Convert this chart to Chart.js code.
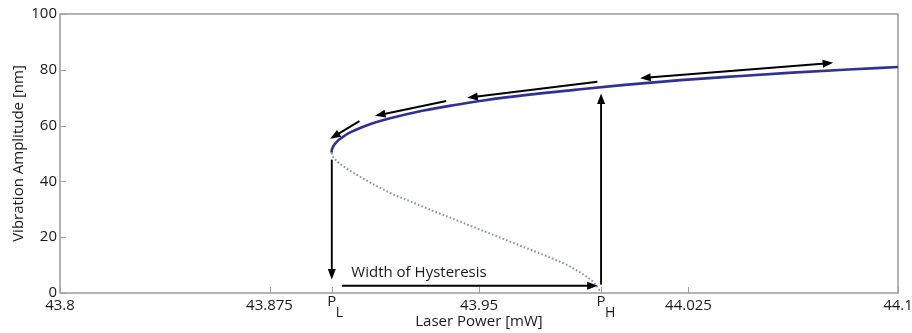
<!DOCTYPE html>
<html><head><meta charset="utf-8">
<script src="https://cdn.jsdelivr.net/npm/chart.js@4/dist/chart.umd.min.js"></script>
<style>html,body{margin:0;padding:0;background:#fff}</style>
</head><body>
<canvas id="c" width="912" height="333"></canvas>
<script>
// ---- data ----
const P_L = 43.8973;
const P_H = 43.9937;
const xTickValues = [43.8, 43.875, P_L, 43.95, P_H, 44.025, 44.1];
const xTickLabels = ['43.8', '43.875', 'P_L', '43.95', 'P_H', '44.025', '44.1'];
const yTickValues = [0, 20, 40, 60, 80, 100];

// stable (upper) branch
const stablePower     = [43.8972, 43.8973, 43.8976, 43.8981, 43.8988, 43.8997, 43.9012, 43.9032, 43.9062, 43.9102, 43.9152, 43.9222, 43.9302, 43.9402, 43.9522, 43.9672, 43.9842, 44.0022, 44.0222, 44.0422, 44.0622, 44.0822, 44.1000];
const stableAmplitude = [50.3,    51.2,    52.1,    53.0,    53.9,    54.8,    55.9,    57.2,    58.6,    60.2,    61.8,    63.6,    65.4,    67.2,    69.1,    71.0,    72.8,    74.6,    76.3,    77.7,    79.0,    80.1,    81.0];

// unstable (middle) branch
const unstablePower     = [43.8972, 43.8974, 43.8980, 43.8992, 43.9012, 43.9042, 43.9082, 43.9132, 43.9192, 43.9262, 43.9342, 43.9432, 43.9522, 43.9612, 43.9702, 43.9772, 43.9822, 43.9862, 43.9897, 43.9920, 43.9935];
const unstableAmplitude = [50.3,    49.4,    48.4,    47.2,    45.6,    43.6,    41.2,    38.4,    35.4,    32.5,    29.2,    25.6,    22.0,    18.4,    14.8,    12.0,    9.7,     7.4,     5.0,     2.7,     0.3];

// annotation arrows (data units)
const arrowStartPower = [P_L,     43.9009, P_H,  43.9072, 43.9383, 43.9924, 44.0077];
const arrowStartAmp   = [47.8,    2.6,     3.0,  61.6,    68.8,    75.7,    77.0];
const arrowEndPower   = [P_L,     43.9925, P_H,  43.8967, 43.9128, 43.9458, 44.0768];
const arrowEndAmp     = [4.8,     2.6,     71.5, 55.3,    63.5,    70.0,    82.5];
const arrowDoubleHead = [false,   false,   false,false,   false,   false,   true];

const annotationText = 'Width of Hysteresis';
const annotationPower = 43.9043;
const annotationAmp = 7.3;

const xTitle = 'Laser Power [mW]';
const yTitle = 'Vibration Amplitude [nm]';

// ---- chart ----
const FONT = '"Open Sans", "DejaVu Sans", sans-serif';
const TEXT = '#1a1a1a';
const FS = 15;

function toPts(xs, ys) { return xs.map((x, i) => ({x: x, y: ys[i]})); }

function head(ctx, x0, y0, x1, y1) {
  const ang = Math.atan2(y1 - y0, x1 - x0);
  const L = 10.5, W = 4;
  ctx.beginPath();
  ctx.moveTo(x1, y1);
  ctx.lineTo(x1 - L * Math.cos(ang) + W * Math.sin(ang), y1 - L * Math.sin(ang) - W * Math.cos(ang));
  ctx.lineTo(x1 - L * Math.cos(ang) - W * Math.sin(ang), y1 - L * Math.sin(ang) + W * Math.cos(ang));
  ctx.closePath();
  ctx.fill();
}

const decor = {
  id: 'decor',
  beforeDatasetsDraw(chart) {
    const {ctx, chartArea: a, scales: {x, y}} = chart;
    ctx.save();
    ctx.strokeStyle = '#8c8c8c';
    ctx.lineWidth = 1.3;
    ctx.strokeRect(a.left, a.top, a.right - a.left, a.bottom - a.top);
    ctx.strokeStyle = '#a0a0a0';
    ctx.lineWidth = 1;
    ctx.beginPath();
    xTickValues.forEach(v => {
      const px = Math.round(x.getPixelForValue(v)) + 0.5;
      ctx.moveTo(px, a.bottom); ctx.lineTo(px, a.bottom - 6);
    });
    yTickValues.forEach(v => {
      const py = Math.round(y.getPixelForValue(v)) + 0.5;
      ctx.moveTo(a.left, py); ctx.lineTo(a.left + 6, py);
    });
    ctx.stroke();
    ctx.restore();
  },
  afterDatasetsDraw(chart) {
    const {ctx, chartArea: a, scales: {x, y}} = chart;
    ctx.save();
    // arrows
    ctx.strokeStyle = '#000';
    ctx.fillStyle = '#000';
    ctx.lineWidth = 1.9;
    arrowStartPower.forEach((p, i) => {
      const x0 = x.getPixelForValue(p), y0 = y.getPixelForValue(arrowStartAmp[i]);
      const x1 = x.getPixelForValue(arrowEndPower[i]), y1 = y.getPixelForValue(arrowEndAmp[i]);
      const ang = Math.atan2(y1 - y0, x1 - x0);
      const sx = arrowDoubleHead[i] ? x0 + 8 * Math.cos(ang) : x0;
      const sy = arrowDoubleHead[i] ? y0 + 8 * Math.sin(ang) : y0;
      ctx.beginPath();
      ctx.moveTo(sx, sy);
      ctx.lineTo(x1 - 8 * Math.cos(ang), y1 - 8 * Math.sin(ang));
      ctx.stroke();
      head(ctx, x0, y0, x1, y1);
      if (arrowDoubleHead[i]) head(ctx, x1, y1, x0, y0);
    });
    // annotation text
    ctx.fillStyle = TEXT;
    ctx.font = FS + 'px ' + FONT;
    ctx.textAlign = 'left';
    ctx.textBaseline = 'middle';
    ctx.fillText(annotationText, x.getPixelForValue(annotationPower), y.getPixelForValue(annotationAmp));
    // subscripted tick labels
    xTickLabels.forEach((lab, i) => {
      if (lab.indexOf('_') < 0) return;
      const [main, sub] = lab.split('_');
      const px = x.getPixelForValue(xTickValues[i]);
      ctx.textAlign = 'center';
      ctx.font = FS + 'px ' + FONT;
      ctx.fillText(main, px, a.bottom + 9);
      ctx.textAlign = 'left';
      ctx.font = '14px ' + FONT;
      ctx.fillText(sub, px + 4, a.bottom + 20);
    });
    ctx.restore();
  }
};

new Chart(document.getElementById('c'), {
  type: 'scatter',
  data: {
    datasets: [
      {
        data: toPts(unstablePower, unstableAmplitude),
        showLine: true, borderColor: '#868dc6', borderWidth: 2,
        borderDash: [1.6, 2.2], pointRadius: 0, cubicInterpolationMode: 'monotone', fill: false
      },
      {
        data: toPts(stablePower, stableAmplitude),
        showLine: true, borderColor: '#2f3196', borderWidth: 2.6,
        pointRadius: 0, cubicInterpolationMode: 'monotone', fill: false
      }
    ]
  },
  plugins: [decor],
  options: {
    responsive: false,
    animation: false,
    events: [],
    layout: {padding: {left: 0, top: 14, right: 14, bottom: 0}},
    plugins: {legend: {display: false}, tooltip: {enabled: false}},
    scales: {
      x: {
        type: 'linear', min: 43.8, max: 44.1,
        afterBuildTicks(s) { s.ticks = xTickValues.map(v => ({value: v})); },
        afterFit(s) { s.height = 40; s.paddingRight = 0; s.paddingLeft = 0; },
        grid: {display: false, drawTicks: false},
        border: {display: false},
        ticks: {
          autoSkip: false, maxRotation: 0, padding: 4,
          color: TEXT, font: {family: FONT, size: FS},
          callback(v, i) { const l = xTickLabels[i]; return l.indexOf('_') >= 0 ? '' : l; }
        },
        title: {display: true, text: xTitle, color: TEXT, font: {family: FONT, size: FS}, padding: {top: 0, bottom: 2}}
      },
      y: {
        type: 'linear', min: 0, max: 100,
        afterBuildTicks(s) { s.ticks = yTickValues.map(v => ({value: v})); },
        afterFit(s) { s.width = 60; s.paddingTop = 0; s.paddingBottom = 0; },
        grid: {display: false, drawTicks: false},
        border: {display: false},
        ticks: {padding: 3, color: TEXT, font: {family: FONT, size: FS}},
        title: {display: true, text: yTitle, color: TEXT, font: {family: FONT, size: FS}, padding: {top: 10, bottom: 0}}
      }
    }
  }
});
</script>
</body></html>
